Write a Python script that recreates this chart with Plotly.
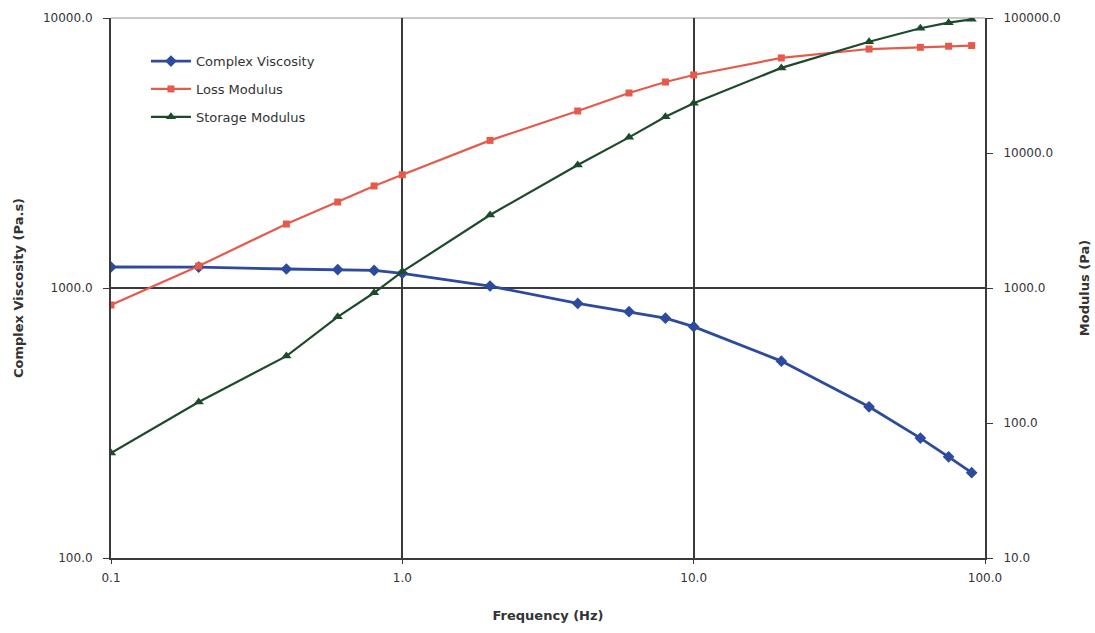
import plotly.graph_objects as go

freq = [0.1, 0.2, 0.4, 0.6, 0.8, 1.0, 2.0, 4.0, 6.0, 8.0, 10.0, 20.0, 40.0, 60.0, 75.0, 90.0]
complex_viscosity = [1196, 1195, 1176, 1170, 1162, 1133, 1017, 877, 817, 773, 719, 536, 363, 278, 237, 207]
loss_modulus = [748, 1455, 2978, 4335, 5700, 6900, 12400, 20470, 27830, 33570, 37860, 50600, 58900, 60650, 61800, 62500]
storage_modulus = [60, 143, 313, 612, 922, 1321, 3475, 8150, 13060, 18580, 23330, 42700, 66700, 83900, 92300, 97800]

x_ticks = [0.1, 1, 10, 100]
x_ticktext = ["0.1", "1.0", "10.0", "100.0"]
y_ticks = [100, 1000, 10000]
y_ticktext = ["100.0", "1000.0", "10000.0"]
y2_ticks = [10, 100, 1000, 10000, 100000]
y2_ticktext = ["10.0", "100.0", "1000.0", "10000.0", "100000.0"]

FONT = "DejaVu Sans"
AX = "#3a3a3a"
TXT = "#333333"

fig = go.Figure()
fig.add_trace(go.Scatter(x=freq, y=complex_viscosity, name="Complex Viscosity",
                         mode="lines+markers", legendgroup="a",
                         line=dict(color="#2c4a9e", width=2.8),
                         marker=dict(symbol="diamond", size=9, color="#2c4a9e")))
fig.add_trace(go.Scatter(x=freq, y=loss_modulus, name="Loss Modulus", yaxis="y2",
                         mode="lines+markers", legendgroup="b",
                         line=dict(color="#e65a4c", width=2.2),
                         marker=dict(symbol="square", size=7, color="#e65a4c")))
fig.add_trace(go.Scatter(x=freq, y=storage_modulus, name="Storage Modulus", yaxis="y2",
                         mode="lines+markers", legendgroup="c",
                         line=dict(color="#1e4a2c", width=2.2),
                         marker=dict(symbol="triangle-up", size=9, color="#1e4a2c")))

fig.add_shape(type="line", xref="paper", yref="paper", x0=0, x1=1, y0=1, y1=1,
              line=dict(color="#b5b5b5", width=1.5), layer="below")

fig.update_layout(
    width=1095, height=633,
    margin=dict(l=111, r=110, t=18, b=75),
    paper_bgcolor="white", plot_bgcolor="white",
    font=dict(family=FONT, color=TXT, size=12),
    showlegend=True,
    legend=dict(x=0.04, y=0.948, xanchor="left", yanchor="top",
                bgcolor="rgba(0,0,0,0)", font=dict(size=13, color=TXT),
                tracegroupgap=8, itemwidth=40),
    xaxis=dict(type="log", range=[-1, 2], tickvals=x_ticks, ticktext=x_ticktext,
               automargin=False,
               showgrid=True, gridcolor=AX, gridwidth=1.5,
               showline=True, linecolor=AX, linewidth=2,
               ticks="outside", ticklen=4, tickcolor=AX, ticklabelstandoff=4,
               tickfont=dict(size=12, color=TXT),
               title=dict(text="<b>Frequency (Hz)</b>", font=dict(size=13, color=TXT), standoff=26)),
    yaxis=dict(type="log", range=[2, 4], tickvals=y_ticks, ticktext=y_ticktext,
               automargin=False,
               showgrid=True, gridcolor=AX, gridwidth=1.5,
               showline=True, linecolor=AX, linewidth=2,
               ticks="outside", ticklen=6, tickcolor=AX, ticklabelstandoff=8,
               tickfont=dict(size=12, color=TXT),
               title=dict(text="<b>Complex Viscosity (Pa.s)</b>", font=dict(size=13, color=TXT), standoff=16)),
    yaxis2=dict(type="log", range=[1, 5], tickvals=y2_ticks, ticktext=y2_ticktext,
                automargin=False,
                overlaying="y", side="right", showgrid=False,
                showline=True, linecolor=AX, linewidth=2,
                ticks="outside", ticklen=6, tickcolor=AX, ticklabelstandoff=8,
                tickfont=dict(size=12, color=TXT),
                title=dict(text="<b>Modulus (Pa)</b>", font=dict(size=13, color=TXT), standoff=20)),
)

fig.write_html("out.html")
